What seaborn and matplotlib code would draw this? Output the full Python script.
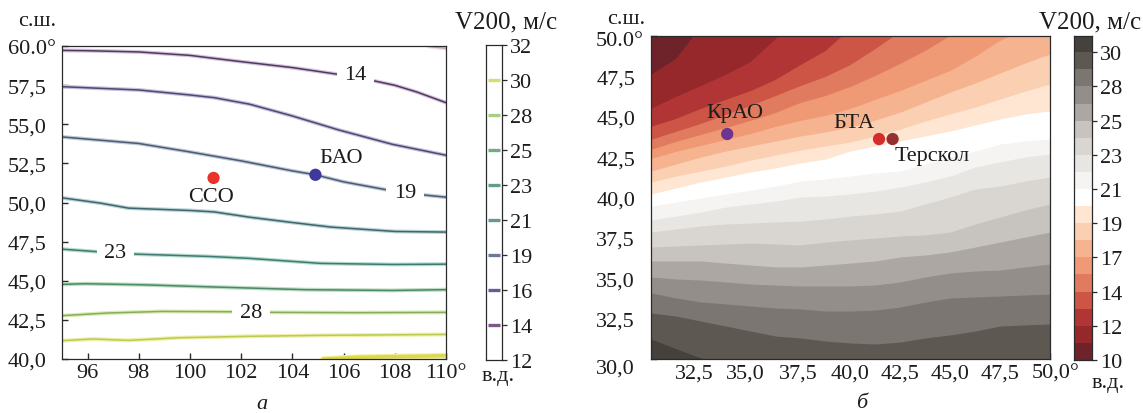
# V200 maps: contour lines over Siberia (a) and filled bands over the Caucasus (b)

import matplotlib
matplotlib.use('Agg')
import matplotlib.pyplot as plt
from matplotlib.transforms import ScaledTranslation
import seaborn as sns

# panel a: isolines (longitude, latitude)
lon12 = [109.3, 110.0]
lat12 = [59.98, 59.85]
lon14 = [95, 96, 98, 100, 100.94, 102, 104, 105.78, 107.2, 108, 108.86, 110]
lat14 = [59.72, 59.70, 59.62, 59.40, 59.21, 59.00, 58.62, 58.19, 57.77, 57.49, 57.06, 56.38]
lon16 = [95, 98, 100, 100.94, 102.33, 104, 105.8, 107.9, 110]
lat16 = [57.40, 57.19, 56.87, 56.70, 56.28, 55.53, 54.64, 53.72, 53.02]
lon19 = [95, 98, 100, 102, 104, 104.9, 106, 107.68, 109.2, 110]
lat19 = [54.19, 53.77, 53.23, 52.66, 52.02, 51.77, 51.32, 50.81, 50.47, 50.34]
lon21 = [95, 96.5, 97.6, 100, 100.94, 102.33, 104, 105.5, 108, 110]
lat21 = [50.30, 49.96, 49.64, 49.49, 49.40, 49.06, 48.72, 48.43, 48.15, 48.11]
lon23 = [95, 96.43, 97.9, 100.8, 102.33, 105.1, 107.9, 110]
lat23 = [47.02, 46.85, 46.70, 46.55, 46.43, 46.11, 46.04, 46.06]
lon25 = [95, 95.9, 98.2, 100.94, 104.5, 107.9, 110]
lat25 = [44.77, 44.81, 44.74, 44.60, 44.43, 44.38, 44.43]
lon28 = [95, 96.8, 98.9, 101.5, 103.2, 106.5, 110]
lat28 = [42.77, 42.94, 43.04, 43.02, 42.98, 42.96, 42.98]
lon30 = [95, 96.2, 97.6, 99.6, 102.3, 105.1, 110]
lat30 = [41.17, 41.28, 41.19, 41.36, 41.45, 41.51, 41.57]
lon32 = [105.2, 106.5, 110]
lat32 = [40.0, 40.11, 40.21]

contour_lines = [(lon12, lat12), (lon14, lat14), (lon16, lat16), (lon19, lat19), (lon21, lat21),
                 (lon23, lat23), (lon25, lat25), (lon28, lat28), (lon30, lat30), (lon32, lat32)]
contour_names = ['14', '19', '23', '28']
contour_name_lon = [106.47, 108.4, 97.08, 102.38]
contour_name_lat = [58.17, 50.64, 46.8, 42.98]

stations_a = ['ССО', 'БАО']
stations_a_lon = [100.92, 104.9]
stations_a_lat = [51.57, 51.77]
names_a_lon = [100.83, 105.9]
names_a_lat = [50.41, 52.9]

xticks_a = [96, 98, 100, 102, 104, 106, 108, 110]
xlabels_a = ['96', '98', '100', '102', '104', '106', '108', '110°']
yticks_a = [40, 42.5, 45, 47.5, 50, 52.5, 55, 57.5, 60]
ylabels_a = ['40,0', '42,5', '45,0', '47,5', '50,0', '52,5', '55,0', '57,5', '60.0°']
cbar_ticks_a = [12, 14.22, 16.44, 18.67, 20.89, 23.11, 25.33, 27.56, 29.78, 32]
cbar_labels_a = ['12', '14', '16', '19', '21', '23', '25', '28', '30', '32']

# panel b: upper latitude of each band edge at these longitudes (values past the frame are clipped)
lon_b = [30, 31.25, 32.5, 33.75, 35, 36.25, 37.5, 38.75, 40, 41.25, 42.5, 43.75, 45, 46.25, 47.5, 48.75, 50]
edge0 = [47.59, 48.58, 50.56, 51.67, 52.91, 54.15, 54.15, 54.15, 54.15, 54.15, 54.15, 54.15, 54.15, 54.15, 54.15, 54.15, 54.15]
edge1 = [45.48, 46.22, 46.90, 47.59, 48.39, 49.81, 51.36, 52.17, 52.91, 54.15, 54.15, 54.15, 54.15, 54.15, 54.15, 54.15, 54.15]
edge2 = [44.37, 44.86, 45.48, 46.04, 46.59, 47.28, 48.20, 49.07, 50.43, 51.67, 52.91, 54.15, 54.15, 54.15, 54.15, 54.15, 54.15]
edge3 = [43.56, 44.06, 44.55, 45.11, 45.67, 46.28, 46.90, 47.46, 48.20, 49.19, 50.25, 51.05, 51.67, 52.29, 52.91, 53.53, 54.15]
edge4 = [42.94, 43.44, 43.87, 44.30, 44.74, 45.23, 45.85, 46.28, 46.84, 47.52, 48.27, 49.07, 50.00, 50.62, 51.36, 51.98, 52.29]
edge5 = [42.38, 42.82, 43.19, 43.56, 43.93, 44.37, 44.74, 45.05, 45.48, 46.04, 46.59, 47.21, 47.83, 48.70, 49.69, 50.43, 51.05]
edge6 = [41.64, 42.07, 42.51, 42.88, 43.19, 43.50, 43.81, 44.06, 44.37, 44.80, 45.29, 45.91, 46.53, 47.09, 47.71, 48.33, 48.89]
edge7 = [40.96, 41.33, 41.64, 41.95, 42.32, 42.63, 42.94, 43.19, 43.44, 43.81, 44.24, 44.74, 45.17, 45.60, 46.10, 46.59, 47.03]
edge8 = [40.22, 40.59, 40.96, 41.27, 41.58, 41.83, 42.14, 42.38, 42.88, 43.19, 43.50, 43.81, 44.12, 44.49, 44.86, 45.17, 45.36]
edge9 = [39.47, 39.72, 39.97, 40.22, 40.46, 40.71, 41.02, 41.15, 41.33, 41.52, 41.64, 42.07, 42.51, 42.88, 43.31, 43.50, 43.62]
edge10 = [38.61, 38.85, 39.10, 39.41, 39.60, 39.78, 40.03, 40.09, 40.22, 40.40, 40.65, 40.96, 41.33, 41.89, 42.20, 42.51, 42.69]
edge11 = [37.86, 38.05, 38.24, 38.36, 38.42, 38.48, 38.54, 38.67, 38.85, 38.98, 39.16, 39.60, 40.03, 40.53, 40.71, 41.02, 41.27]
edge12 = [36.93, 37.00, 37.06, 37.12, 37.18, 37.12, 37.06, 37.24, 37.37, 37.49, 37.62, 37.68, 37.86, 38.36, 38.79, 39.23, 39.60]
edge13 = [36.07, 36.07, 36.07, 35.94, 35.82, 35.70, 35.70, 35.82, 35.94, 36.07, 36.32, 36.44, 36.63, 36.93, 37.24, 37.55, 37.86]
edge14 = [35.08, 34.95, 34.89, 34.77, 34.64, 34.58, 34.52, 34.52, 34.52, 34.58, 34.77, 35.08, 35.33, 35.45, 35.51, 35.70, 35.88]
edge15 = [34.09, 33.78, 33.53, 33.41, 33.28, 33.16, 33.10, 32.97, 32.97, 33.03, 33.22, 33.53, 33.78, 33.84, 33.90, 33.96, 34.02]
edge16 = [32.85, 32.66, 32.35, 32.04, 31.73, 31.42, 31.30, 31.11, 30.99, 30.93, 31.05, 31.30, 31.49, 31.73, 32.04, 32.11, 32.17]
edge17 = [31.24, 30.64, 30.06, 29.63, 29.07, 29.07, 29.07, 29.07, 29.07, 29.07, 29.07, 29.07, 29.07, 29.07, 29.07, 29.07, 29.07]
edges_b = [edge0, edge1, edge2, edge3, edge4, edge5, edge6, edge7, edge8, edge9, edge10, edge11,
           edge12, edge13, edge14, edge15, edge16, edge17]

levels_b = [10, 11.11, 12.22, 13.33, 14.44, 15.56, 16.67, 17.78, 18.89, 20, 21.11, 22.22,
            23.33, 24.44, 25.56, 26.67, 27.78, 28.89, 30, 31.06]

stations_b = ['КрАО', 'БТА', 'Терскол']
stations_b_lon = [33.82, 41.43, 42.11]
stations_b_lat = [43.93, 43.62, 43.62]
names_b_lon = [34.21, 40.18, 44.09]
names_b_lat = [45.29, 44.67, 42.63]

xticks_b = [32.5, 35, 37.5, 40, 42.5, 45, 47.5, 50]
xlabels_b = ['32,5', '35,0', '37,5', '40,0', '42,5', '45,0', '47,5', '50,0°']
yticks_b = [30, 32.5, 35, 37.5, 40, 42.5, 45, 47.5, 50]
ylabels_b = ['30,0', '32,5', '35,0', '37,5', '40,0', '42,5', '45,0', '47,5', '50.0°']
cbar_ticks_b = [10, 12.22, 14.44, 16.67, 18.89, 21.11, 23.33, 25.56, 27.78, 30]
cbar_labels_b = ['10', '12', '14', '17', '19', '21', '23', '25', '28', '30']

# styles
line_core = ['#c4a3b2', '#4f3a5e', '#4e4874', '#4d5a72', '#3f6670', '#3d7a70', '#4a8a68', '#86ad5e', '#bcca52', '#dcd848']
line_halo = ['#eadde4', '#d4c4dc', '#c6c2dc', '#c0ccd8', '#bcd4d4', '#b8dccf', '#bfdcc0', '#dcebb4', '#eef0a8', '#f2f0a0']
line_width = [1.1, 1.1, 1.1, 1.1, 1.1, 1.1, 1.1, 1.1, 1.1, 2.4]
cbar_line_a = ['#7a5a85', '#6d5a95', '#6d7a95', '#6a9595', '#5f9f8a', '#70ab85', '#a5cf85', '#d8dc70']
band_colors = sns.color_palette(['#6e2229', '#96282b', '#b23535', '#cc5546', '#e07b5f', '#ef9a75',
                                 '#f5b48f', '#fbcfb1', '#fee6d3', '#ffffff', '#f6f4f3', '#e8e6e3',
                                 '#d9d5d1', '#c7c3bf', '#aca7a3', '#938e8a', '#7b7671', '#5e5853',
                                 '#45413d'])
FRAME = '#2a2a2a'
TEXT = '#1c1c1c'
FS = 16

W, H = 1143, 414

sns.set_theme(style='white')
plt.rcParams['font.family'] = ['Liberation Serif', 'DejaVu Serif']
plt.rcParams['text.color'] = TEXT
plt.rcParams['axes.linewidth'] = 0.9
plt.rcParams['axes.edgecolor'] = FRAME


def box(left, right, top, bottom):
  return [left / W, 1 - bottom / H, (right - left) / W, (bottom - top) / H]


def shift(label, dx, dy, fig):
  label.set_transform(label.get_transform() + ScaledTranslation(dx / 100, -dy / 100, fig.dpi_scale_trans))


def map_axes(ax, xlim, ylim, xticks, xlabels, yticks, ylabels, ypad):
  ax.set_xlim(xlim)
  ax.set_ylim(ylim)
  ax.set_xticks(xticks)
  ax.set_xticklabels(xlabels, fontsize=FS)
  ax.set_yticks(yticks)
  ax.set_yticklabels(ylabels, fontsize=FS, ha='left')
  ax.set_xlabel('')
  ax.set_ylabel('')
  ax.tick_params(axis='x', direction='in', bottom=True, length=4.5, width=1, color=FRAME, pad=3, labelcolor=TEXT)
  ax.tick_params(axis='y', direction='in', left=True, length=4.5, width=1, color=FRAME, pad=ypad, labelcolor=TEXT)


def cbar_axes(ax, ticks, labels, ylim):
  ax.set_xlim(0, 1)
  ax.set_ylim(ylim)
  ax.set_xticks([])
  ax.yaxis.tick_right()
  ax.set_yticks(ticks)
  ax.set_yticklabels(labels, fontsize=FS)
  ax.tick_params(axis='y', right=True, direction='out', length=3.5, width=0.9, color=FRAME, pad=2, labelcolor=TEXT)


fig = plt.figure(figsize=(W / 100, H / 100), dpi=100)

# panel a
ax = fig.add_axes(box(62, 446, 47, 360))
for (x, y), core, halo, lw in zip(contour_lines, line_core, line_halo, line_width):
  sns.lineplot(x=x, y=y, ax=ax, color=halo, linewidth=lw + 1.7, sort=False, estimator=None)
  sns.lineplot(x=x, y=y, ax=ax, color=core, linewidth=lw, sort=False, estimator=None)
for name, x, y in zip(contour_names, contour_name_lon, contour_name_lat):
  ax.text(x, y, name, fontsize=FS, ha='center', va='center', zorder=5,
          bbox=dict(facecolor='white', edgecolor='none', pad=5.5))
sns.scatterplot(x=stations_a_lon, y=stations_a_lat, ax=ax, hue=stations_a,
                palette=['#e8322b', '#40389a'], s=78, linewidth=0, legend=False, zorder=6)
for name, x, y in zip(stations_a, names_a_lon, names_a_lat):
  ax.text(x, y, name, fontsize=FS, ha='center', va='center', zorder=6)
map_axes(ax, (95, 110), (40, 60), xticks_a, xlabels_a, yticks_a, ylabels_a, 39)

cax = fig.add_axes(box(486, 502, 46, 361))
cax.hlines(cbar_ticks_a[1:9], 0.15, 0.85, colors=cbar_line_a, linewidth=2.4)
cbar_axes(cax, cbar_ticks_a, cbar_labels_a, (12, 32))

# panel b
ax2 = fig.add_axes(box(651, 1050, 37, 360))
ax2.set_facecolor(band_colors[0])
for edge, color in zip(edges_b, band_colors[1:]):
  ax2.fill_between(lon_b, 25, edge, color=color, linewidth=0)
sns.scatterplot(x=stations_b_lon, y=stations_b_lat, ax=ax2, hue=stations_b,
                palette=['#6f3391', '#d42b2b', '#963030'], s=78, linewidth=0, legend=False, zorder=6)
for name, x, y in zip(stations_b, names_b_lon, names_b_lat):
  ax2.text(x, y, name, fontsize=FS, ha='center', va='center', zorder=6)
map_axes(ax2, (30, 50), (30, 50), xticks_b, xlabels_b, yticks_b, ylabels_b, 39.5)
for label, dx in zip(ax2.get_xticklabels(), [-7, -5, -2, 0, 0, 0, 0, 6]):
  shift(label, dx, 0, fig)
shift(ax2.get_yticklabels()[0], 0, 7, fig)
shift(ax2.get_yticklabels()[-1], 0, 2, fig)

cax2 = fig.add_axes(box(1074, 1092, 37, 361))
for low, high, color in zip(levels_b[:-1], levels_b[1:], band_colors):
  cax2.barh(low, 1, height=high - low, align='edge', color=color, linewidth=0)
cbar_axes(cax2, cbar_ticks_b, cbar_labels_b, (10, 31.06))


# texts around the panels
def px_text(x, y, s, size=FS, **kw):
  fig.text(x / W, 1 - y / H, s, fontsize=size, ha='center', va='center', **kw)


px_text(37, 21, 'с.ш.')
px_text(506, 22, 'V200, м/с', size=18)
px_text(498, 377, 'в.д.')
px_text(262, 405, 'а', style='italic')
px_text(626, 19, 'с.ш.')
px_text(1090, 22, 'V200, м/с', size=18)
px_text(1108, 384, 'в.д.')
px_text(862, 404, 'б', style='italic')

fig.savefig('out.png', dpi=100)
